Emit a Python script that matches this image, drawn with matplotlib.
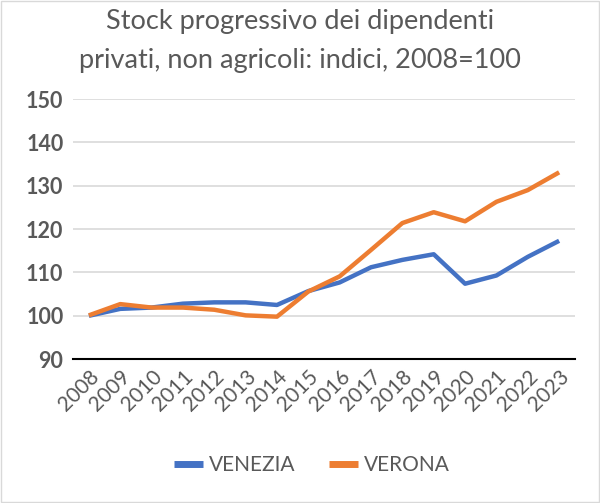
import matplotlib
matplotlib.use("Agg")
from matplotlib import pyplot as plt
from matplotlib.patches import Rectangle

years = [str(y) for y in range(2008, 2024)]
venezia = [100.0, 101.6, 101.9, 102.8, 103.1, 103.1, 102.5, 105.7,
           107.7, 111.2, 112.9, 114.2, 107.4, 109.3, 113.6, 117.3]
verona = [100.1, 102.7, 101.9, 101.9, 101.4, 100.1, 99.8, 105.6,
          109.1, 115.2, 121.4, 123.9, 121.8, 126.3, 129.0, 133.1]

plt.rcParams['font.family'] = ['Lato', 'DejaVu Sans']
grey = '#595959'

fig = plt.figure(figsize=(6.0, 5.03), dpi=100)
ax = fig.add_axes([0.122, 0.286, 0.836, 0.517])

x = list(range(len(years)))
ax.plot(x, venezia, color='#4472C4', lw=3.2, label='VENEZIA', solid_capstyle='butt')
ax.plot(x, verona, color='#ED7D31', lw=3.2, label='VERONA', solid_capstyle='butt')

ax.set_xlim(-0.5, len(years) - 0.5)
ax.set_ylim(90, 150)
ax.set_yticks(range(90, 151, 10))
ax.set_xticks(x)
ax.set_xticklabels(years, rotation=45, ha='right', rotation_mode='anchor',
                   fontsize=15, color=grey)
for lab in ax.get_yticklabels():
    lab.set_fontweight('bold')
    lab.set_fontsize(15.5)
    lab.set_color(grey)

ax.grid(axis='y', color='#d9d9d9', lw=1.2)
ax.set_axisbelow(True)
for s in ['top', 'right', 'left']:
    ax.spines[s].set_visible(False)
ax.spines['bottom'].set_color('black')
ax.spines['bottom'].set_linewidth(1.5)
ax.tick_params(length=0)
ax.tick_params(axis='y', pad=7)
ax.tick_params(axis='x', pad=5)

fig.suptitle('Stock progressivo dei dipendenti\nprivati, non agricoli: indici, 2008=100',
             y=0.983, fontsize=19.5, color=grey, linespacing=1.7)

leg = fig.legend(loc='center', bbox_to_anchor=(0.52, 0.075), ncol=2, frameon=False,
                 fontsize=15, labelcolor=grey, handlelength=1.4,
                 columnspacing=1.6, handletextpad=0.3)
for h in leg.get_lines():
    h.set_linewidth(5)

fig.patches.append(Rectangle((0.002, 0.002), 0.996, 0.996, transform=fig.transFigure,
                             fill=False, edgecolor='#d9d9d9', lw=1))

fig.savefig('out.png', dpi=100)
